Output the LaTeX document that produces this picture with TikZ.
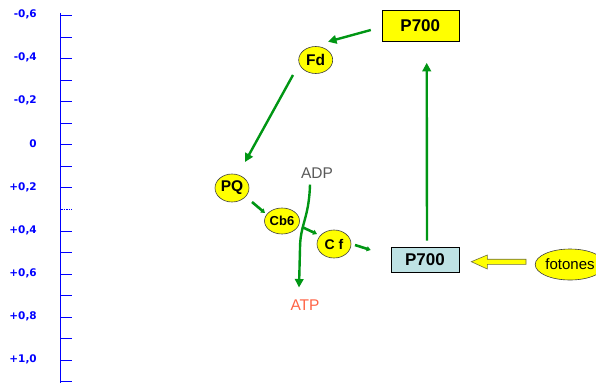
\documentclass[tikz,border=0pt]{standalone}
\usepackage{fontspec}
\setmainfont{Liberation Sans}
\newfontfamily\axisfont{DejaVu Sans}
\usetikzlibrary{arrows.meta,calc,shapes.geometric}
\definecolor{grn}{RGB}{0,150,20}
\definecolor{axblue}{RGB}{0,0,255}
\definecolor{ylw}{RGB}{255,255,0}
\definecolor{lblue}{RGB}{190,226,228}
\definecolor{adpgray}{RGB}{90,90,90}
\definecolor{atpred}{RGB}{255,100,70}
\definecolor{blkedge}{RGB}{110,110,60}
\begin{document}
\begin{tikzpicture}[x=1pt,y=-1pt,
  carrier/.style={ellipse,draw=black!75,fill=ylw,line width=0.6pt,inner sep=0pt,
     minimum width=34pt,minimum height=27pt,font=\bfseries\fontsize{15.5}{15.5}\selectfont},
  pbox/.style={rectangle,draw=black,line width=0.6pt,inner sep=0pt,
     font=\bfseries\fontsize{17}{17}\selectfont},
  flow/.style={draw=grn,line width=2.4pt,-{Triangle[length=8.5pt,width=8.5pt]}},
  shortflow/.style={draw=grn,line width=2.6pt,-{Triangle[length=4pt,width=5pt]}},
  axislbl/.style={anchor=east,text=axblue,inner sep=0pt,font=\axisfont\bfseries\fontsize{10.5}{10.5}\selectfont},
  tick/.style={draw=axblue,line width=0.9pt},
  blockarrow/.style={fill=ylw,draw=blkedge,line width=0.6pt,line join=miter}
]
\useasboundingbox (0,0) rectangle (596,383);
\clip (0,0) rectangle (596,383);
\fill[white] (0,0) rectangle (596,383);

% axis
\coordinate (axtop) at (60.7,13.3);
\coordinate (axbot) at (60.7,383);
\draw[tick] (axtop) -- (axbot);
\foreach \k in {0,...,17}{
  \pgfmathsetmacro{\yy}{15.7+21.53*\k}
  \ifnum\k=9
    \draw[tick,dash pattern=on 1.5pt off 1pt] (61,\yy) -- (72,\yy);
  \else
    \draw[tick] (60.7,\yy) -- (72,\yy);
  \fi
}
\foreach \k/\t in {0/{-0,6},2/{-0,4},4/{-0,2},6/{0},8/{+0,2},10/{+0,4},12/{+0,6},14/{+0,8},16/{+1,0}}{
  \pgfmathsetmacro{\yy}{14.7+21.53*\k}
  \node[axislbl] (lbl\k) at (37,\yy) {\t};
}

% nodes
\node[pbox,fill=ylw,minimum width=77pt,minimum height=31pt] (p7t) at (420.3,26) {P700};
\node[pbox,fill=lblue,minimum width=68pt,minimum height=25pt] (p7b) at (425,259.5) {P700};
\node[carrier] (fd) at (315.7,60) {Fd};
\node[carrier,minimum height=28pt] (pq) at (232,188) {PQ};
\node[carrier,minimum width=35pt,minimum height=26pt,font=\bfseries\fontsize{13}{13}\selectfont] (cb6) at (282,221) {Cb6};
\node[carrier,minimum height=28pt,font=\bfseries\fontsize{14}{14}\selectfont] (cf) at (334,244) {C f};
\node[ellipse,draw=black!75,fill=ylw,line width=0.6pt,inner sep=0pt,minimum width=68pt,minimum height=31pt,
      font=\fontsize{15}{15}\selectfont] (fot) at (570,264.5) {fotones};
\node[text=adpgray,font=\fontsize{15.5}{15.5}\selectfont,inner sep=0pt] (adp) at (317,173) {ADP};
\node[text=atpred,font=\fontsize{15.5}{15.5}\selectfont,inner sep=0pt] (atp) at (305,305) {ATP};

% connectors
\draw[flow] ($(p7t.west)+(-10.7,4)$) -- ($(fd.center)+(12.3,-18.3)$);
\draw[flow] ($(fd.center)+(-22.7,15)$) -- ($(pq.center)+(13,-26)$);
\draw[shortflow] ($(pq.center)+(20,14)$) -- ($(cb6.center)+(-17,-8)$);
\draw[shortflow] ($(cb6.center)+(20,6)$) -- ($(cf.center)+(-17,-10)$);
\draw[shortflow] ($(cf.center)+(21,1)$) -- ($(p7b.west)+(-20,-9.5)$);
\draw[flow] ($(adp.south)+(-7,6)$) .. controls ($(adp.south)+(-8,40)$) and ($(adp.south)+(-17,46)$) ..
   ($(adp.south)+(-17,70)$) -- ($(atp.north)+(-6,-12)$);
\draw[flow] ($(p7b.north)+(2,-6)$) -- ($(p7t.south)+(6.4,21)$);

% block arrow from fotones to P700
\draw[blockarrow] ($(p7b.east)+(12,2.2)$) -- ++(16,-6.7) -- ++(0,4.2) -- ++(38.7,0)
   -- ++(0,5.1) -- ++(-38.7,0) -- ++(0,4.7) -- cycle;
\end{tikzpicture}
\end{document}
